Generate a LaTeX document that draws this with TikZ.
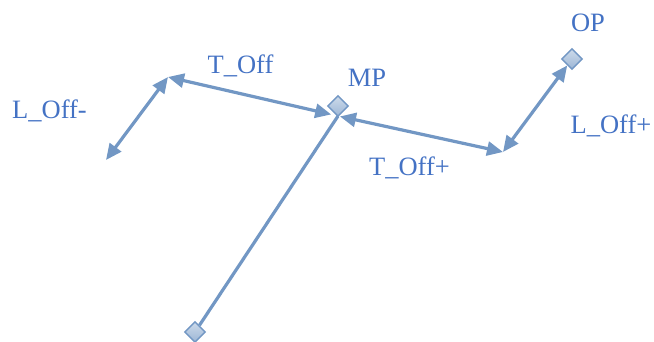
\documentclass[tikz,border=0pt]{standalone}
\usepackage{fontspec}
\setmainfont{Liberation Serif}
\usepackage{tikz}
\usetikzlibrary{arrows.meta,shapes.geometric,positioning}
\definecolor{linecol}{RGB}{114,151,196}
\definecolor{textcol}{RGB}{68,114,196}
\tikzset{
    %Define standard arrow tip
    >={Triangle[length=16pt,width=14pt]},
    %Define style for the points
    pin/.style={
           diamond,
           draw=linecol, line width=1.4pt,
           minimum width=21pt,
           minimum height=21pt,
           inner sep=0pt,
           top color=linecol!35!white,
           bottom color=linecol!70!white},
    %Define style for the labels
    lbl/.style={
           anchor=base,
           text=textcol,
           inner sep=0pt,
           font=\fontsize{26.5}{30}\selectfont},
    % Define arrow style
    conn/.style={
           draw=linecol,
           line width=3.2pt}
}
\begin{document}
\begin{tikzpicture}[x=1pt,y=-1pt]
\useasboundingbox (0,0) rectangle (654,341);
 %points
\coordinate (toffl) at (168,77);
\coordinate (loffb) at (106,160);
\coordinate (toffr) at (503,152);
\coordinate (hub) at (338,116);
\node[pin](base) at (195,332){};
\node[pin](op) at (572,59){};
 %connectors
\draw[conn,<->] (loffb) -- (toffl);
\draw[conn,<->,shorten >=7pt] (toffl) -- (hub);
\draw[conn,<->,shorten <=2pt] (hub) -- (toffr);
\draw[conn,<->] (toffr) -- (op);
\draw[conn] (base) -- (hub);
\node[pin](mp) at (338,106){};
 %labels
\node[lbl](mplbl) at (367,86.7){MP};
\node[lbl](oplbl) at (588,31.7){OP};
\node[lbl](tofflbl) at (240.5,73.3){T\_Off};
\node[lbl](tofrlbl) at (409.5,175.7){T\_Off+};
\node[lbl](lofflbl) at (49.5,118){L\_Off-};
\node[lbl](lofrlbl) at (611,133.3){L\_Off+};
\end{tikzpicture}
\end{document}
